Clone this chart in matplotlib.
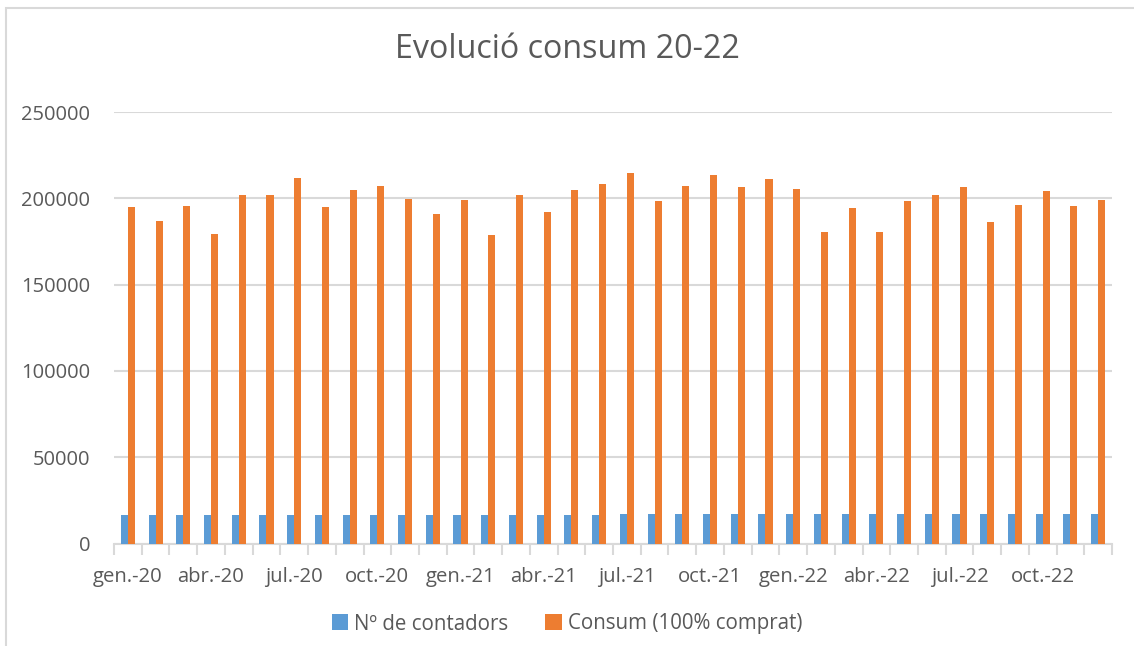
import numpy as np
import matplotlib.pyplot as plt
from matplotlib.patches import Rectangle

# monthly data gen.-20 .. des.-22
months = ['gen.', 'febr.', 'març', 'abr.', 'maig', 'juny',
          'jul.', 'ag.', 'set.', 'oct.', 'nov.', 'des.']
years = ['20', '21', '22']
labels = [f'{m}-{y}' for y in years for m in months]

contadors = [16700] * 18 + [17200] * 18
consum = [195000, 186900, 195600, 179400, 201900, 202000,
          211700, 195000, 204800, 207100, 199600, 191000,
          199000, 178800, 202000, 192100, 204800, 208200,
          214600, 198400, 207100, 213400, 206500, 211000,
          205300, 180500, 194400, 180500, 198400, 202000,
          206500, 186300, 196100, 204200, 195600, 199000]

blue = '#5B9BD5'
orange = '#ED7D31'
txt = '#595959'
grid = '#D9D9D9'

plt.rcParams['font.family'] = ['Open Sans', 'DejaVu Sans']

fig = plt.figure(figsize=(11.34, 6.46), dpi=100)
ax = fig.add_axes([114 / 1134, 1 - 543.5 / 646, (1112 - 114) / 1134, (543.5 - 112) / 646])

# chart border
fig.patches.append(Rectangle((6 / 1134, -0.1), 1.2, 1 - 8 / 646 + 0.1, transform=fig.transFigure,
                             fill=False, edgecolor=grid, lw=1.5))

x = np.arange(len(labels))
w = 0.255
ax.bar(x - w / 2, contadors, w, color=blue, label='Nº de contadors', zorder=3)
ax.bar(x + w / 2, consum, w, color=orange, label='Consum (100% comprat)', zorder=3)

ax.set_xlim(-0.5, len(labels) - 0.5)
ax.set_ylim(0, 250000)
ax.set_yticks(range(0, 250001, 50000))
ax.yaxis.grid(True, color=grid, lw=1.5, zorder=0)
ax.tick_params(axis='y', length=0, pad=17, labelsize=14.5, labelcolor=txt)

ax.set_xticks(np.arange(-0.5, len(labels), 1), minor=False)
ax.set_xticklabels([])
ax.set_xticks(x[::3], minor=True)
ax.set_xticklabels(labels[::3], minor=True)
ax.tick_params(axis='x', which='major', length=8, width=1.5, color=grid)
ax.tick_params(axis='x', which='minor', length=0, pad=17, labelsize=14.6, labelcolor=txt)

for s in ['top', 'right', 'left']:
    ax.spines[s].set_visible(False)
ax.spines['bottom'].set_color(grid)
ax.spines['bottom'].set_linewidth(1.5)

fig.text(0.5, 1 - 49 / 646, 'Evolució consum 20-22', ha='center', va='center',
         fontsize=23.2, color=txt)

fig.legend(loc='center', bbox_to_anchor=(0.5, 1 - 624 / 646), ncol=2, frameon=False,
           fontsize=14.8, labelcolor=txt, handlelength=0.8, handleheight=0.8,
           handletextpad=0.3, columnspacing=1.8)

fig.savefig('out.png', dpi=100)
